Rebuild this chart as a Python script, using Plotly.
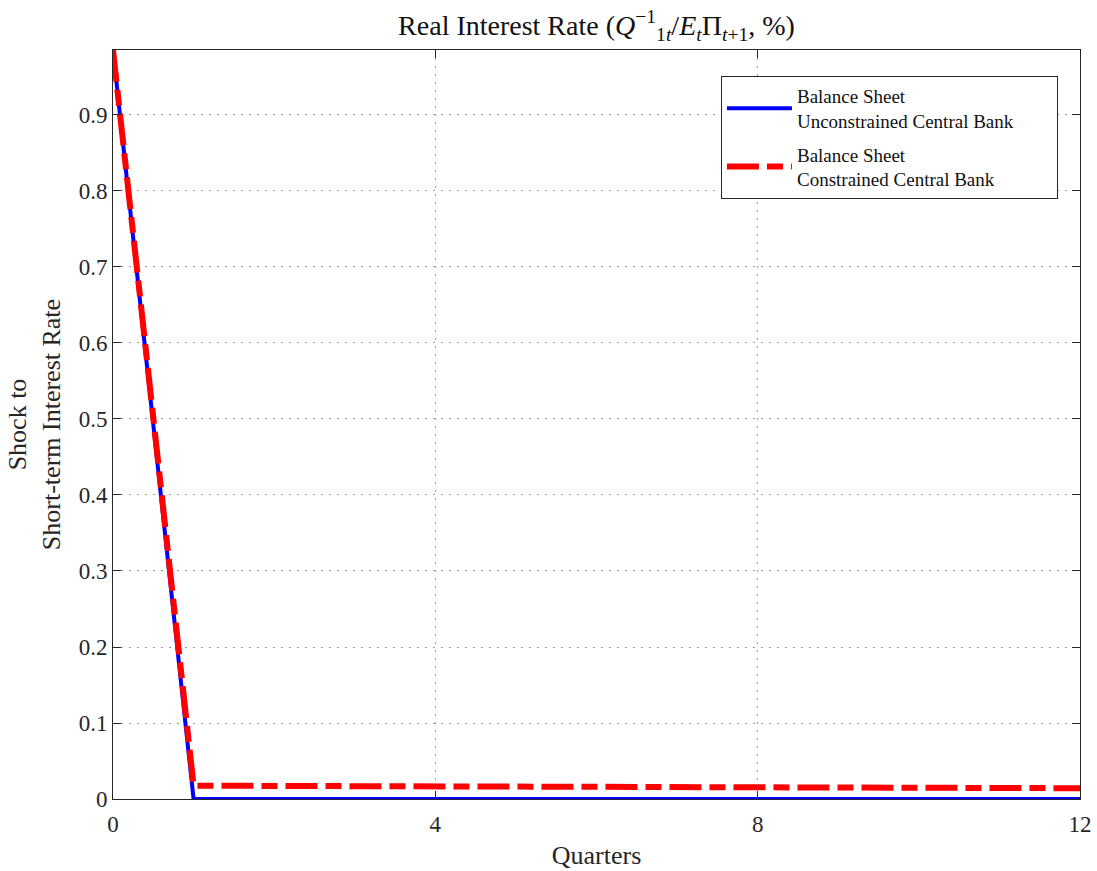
import plotly.graph_objects as go

quarters = list(range(0, 13))
unconstrained = [0.9855, 0, 0, 0, 0, 0, 0, 0, 0, 0, 0, 0, 0]
constrained = [0.9855, 0.0175, 0.0172, 0.0169, 0.0166, 0.0163, 0.016, 0.0157, 0.0154, 0.0151, 0.0148, 0.0145, 0.0142]
x_ticks = [0, 4, 8, 12]
y_ticks = [0, 0.1, 0.2, 0.3, 0.4, 0.5, 0.6, 0.7, 0.8, 0.9]

FONT = "Liberation Serif"
AX = "#262626"
PAD = "&nbsp;" * 8

fig = go.Figure()
fig.add_trace(go.Scatter(
    x=quarters, y=unconstrained, mode="lines", legendgroup="a",
    line=dict(color="#0000ff", width=4),
    name="Balance Sheet<br>Unconstrained Central Bank" + PAD))
fig.add_trace(go.Scatter(
    x=quarters, y=constrained, mode="lines", legendgroup="b",
    line=dict(color="#ff0000", width=6, dash="32px,8px,16px,8px"),
    name="Balance Sheet<br>Constrained Central Bank"))

axis_common = dict(
    showline=True, linecolor=AX, linewidth=1, mirror="ticks",
    ticks="inside", ticklen=8, tickcolor=AX, tickwidth=1,
    showgrid=True, gridcolor="#9a9a9a", griddash="2px,6px", gridwidth=1,
    zeroline=False, automargin=False,
    tickfont=dict(family=FONT, size=23, color=AX),
)

fig.update_layout(
    width=1097, height=871,
    margin=dict(l=113, r=17, t=50, b=72),
    paper_bgcolor="white", plot_bgcolor="white",
    font=dict(family=FONT, color=AX),
    title=dict(
        text="Real Interest Rate (<i>Q</i><sup>−1</sup><sub>1<i>t</i></sub>/<i>E</i><sub><i>t</i></sub>Π<sub><i>t</i>+1</sub>, %)",
        x=0.5, xref="paper", xanchor="center", y=0.971, yanchor="middle",
        font=dict(family=FONT, size=28, color="#111111")),
    xaxis=dict(range=[0, 12], tickvals=x_ticks, ticktext=[str(v) for v in x_ticks],
               ticklabelstandoff=4,
               title=dict(text="Quarters", font=dict(family=FONT, size=26, color=AX), standoff=10),
               **axis_common),
    yaxis=dict(range=[0, 0.9855], tickvals=y_ticks, ticktext=["0"] + [f"{v:.1f}" for v in y_ticks[1:]],
               title=dict(text="Shock to<br>Short-term Interest Rate", font=dict(family=FONT, size=26, color=AX), standoff=10),
               **axis_common),
    legend=dict(
        x=0.6287, y=0.9653, xanchor="left", yanchor="top",
        bgcolor="white", bordercolor=AX, borderwidth=1,
        font=dict(family=FONT, size=19, color="#111111"),
        itemwidth=65, tracegroupgap=6),
    showlegend=True,
)

fig.write_html("out.html", config={"displayModeBar": False},
               post_script="document.body.style.margin='0';document.body.style.overflow='hidden';")
